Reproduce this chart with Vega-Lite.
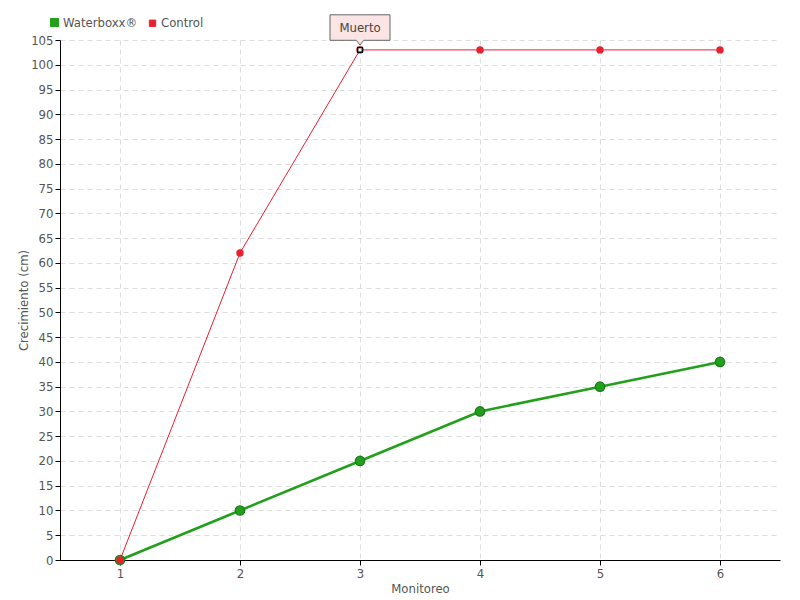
{
  "$schema": "https://vega.github.io/schema/vega-lite/v6.json",
  "width": 720,
  "height": 520,
  "autosize": {"type": "none"},
  "padding": {"left": 60, "top": 40, "right": 20, "bottom": 40},
  "background": "white",
  "config": {
    "font": "DejaVu Sans Condensed",
    "view": {"stroke": null},
    "axis": {
      "labelFont": "DejaVu Sans Condensed",
      "titleFont": "DejaVu Sans Condensed",
      "labelColor": "#555",
      "titleColor": "#555",
      "labelFontSize": 13,
      "titleFontSize": 13,
      "titleFontWeight": "normal",
      "domainColor": "#000",
      "tickColor": "#000",
      "gridColor": "#ddd",
      "gridDash": [5, 4],
      "labelOverlap": false
    }
  },
  "datasets": {
    "series": [
      {"monitoreo": 1, "value": 0, "serie": "Waterboxx®"},
      {"monitoreo": 2, "value": 10, "serie": "Waterboxx®"},
      {"monitoreo": 3, "value": 20, "serie": "Waterboxx®"},
      {"monitoreo": 4, "value": 30, "serie": "Waterboxx®"},
      {"monitoreo": 5, "value": 35, "serie": "Waterboxx®"},
      {"monitoreo": 6, "value": 40, "serie": "Waterboxx®"},
      {"monitoreo": 1, "value": 0, "serie": "Control"},
      {"monitoreo": 2, "value": 62, "serie": "Control"},
      {"monitoreo": 3, "value": 103, "serie": "Control"},
      {"monitoreo": 4, "value": 103, "serie": "Control"},
      {"monitoreo": 5, "value": 103, "serie": "Control"},
      {"monitoreo": 6, "value": 103, "serie": "Control"}
    ],
    "note": [
      {"monitoreo": 3, "value": 103, "label": "Muerto"}
    ]
  },
  "encoding": {
    "x": {
      "field": "monitoreo", "type": "quantitative",
      "scale": {"domain": [0.5, 6.5], "nice": false, "zero": false},
      "axis": {"values": [1, 2, 3, 4, 5, 6], "format": "d", "title": "Monitoreo", "titlePadding": 2, "tickSize": 5, "labelPadding": 2}
    },
    "y": {
      "field": "value", "type": "quantitative",
      "scale": {"domain": [0, 105], "nice": false},
      "axis": {"values": [0,5,10,15,20,25,30,35,40,45,50,55,60,65,70,75,80,85,90,95,100,105], "tickCount": 22, "title": "Crecimiento (cm)", "titlePadding": 0, "tickSize": 5, "labelPadding": 2}
    }
  },
  "layer": [
    {
      "data": {"name": "series"},
      "mark": {"type": "line", "clip": false},
      "encoding": {
        "color": {
          "field": "serie", "type": "nominal",
          "scale": {"domain": ["Waterboxx®", "Control"], "range": ["#22a01c", "#e8202f"]},
          "legend": {
            "orient": "none", "legendX": -12, "legendY": -24, "direction": "horizontal",
            "title": null, "symbolType": "square", "symbolSize": 40, "symbolStrokeWidth": 0,
            "labelFontSize": 13, "labelColor": "#555", "labelFont": "DejaVu Sans Condensed",
            "columnPadding": 8, "labelOffset": 2,
            "encode": {"symbols": {"update": {"fill": {"scale": "color", "field": "value"}, "strokeWidth": {"value": 0}}}}
          }
        },
        "strokeWidth": {
          "field": "serie", "type": "nominal",
          "scale": {"domain": ["Waterboxx®", "Control"], "range": [2.6, 1]},
          "legend": null
        }
      }
    },
    {
      "data": {"name": "series"},
      "transform": [{"filter": "datum.serie === 'Waterboxx®'"}],
      "mark": {"type": "point", "filled": true, "opacity": 1, "strokeWidth": 1.2, "fill": "#22a01c", "stroke": "#1c7a18", "size": 90}
    },
    {
      "data": {"name": "series"},
      "transform": [{"filter": "datum.serie === 'Control'"}],
      "mark": {"type": "point", "filled": true, "opacity": 1, "fill": "#e8202f", "size": 55}
    },
    {
      "data": {"name": "note"},
      "mark": {"type": "point", "shape": "square", "filled": true, "fill": "white", "stroke": "black", "strokeWidth": 1.5, "size": 22, "opacity": 1}
    },
    {
      "data": {"name": "note"},
      "mark": {
        "type": "point",
        "shape": "M -1 -1.17 L 1 -1.17 L 1 -0.32 L 0.12 -0.32 L 0 -0.16 L -0.12 -0.32 L -1 -0.32 Z",
        "filled": true, "fill": "#fbe4e4", "stroke": "#666", "strokeWidth": 1, "size": 3600, "opacity": 1
      }
    },
    {
      "data": {"name": "note"},
      "mark": {"type": "text", "dy": -22, "fontSize": 13, "color": "#444", "font": "DejaVu Sans Condensed"},
      "encoding": {
        "text": {"field": "label"}
      }
    }
  ]
}
